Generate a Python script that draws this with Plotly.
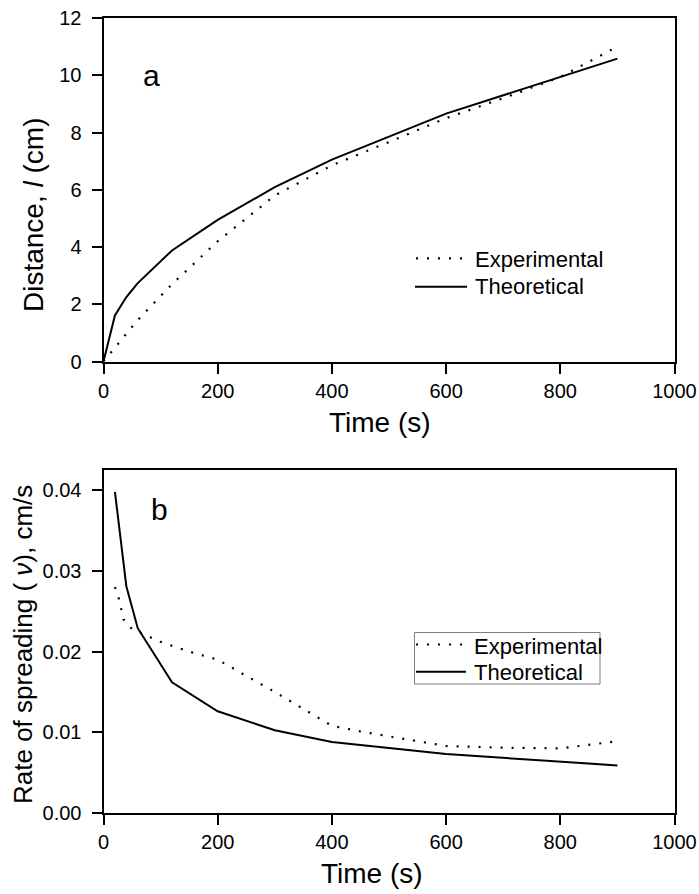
import plotly.graph_objects as go

# ---------------- data ----------------
# Panel a: distance vs time
time_a_theo = [0, 20, 40, 60, 120, 200, 300, 400, 600, 900]
dist_a_theo = [0, 1.61, 2.25, 2.74, 3.88, 4.95, 6.09, 7.05, 8.66, 10.58]

time_a_exp = [0, 60, 120, 200, 300, 400, 500, 600, 700, 800, 900]
dist_a_exp = [0, 1.45, 2.7, 4.2, 5.8, 6.85, 7.67, 8.5, 9.2, 9.94, 11.0]

# Panel b: rate of spreading vs time
time_b_theo = [20, 40, 60, 120, 200, 300, 400, 600, 900]
rate_b_theo = [0.0398, 0.0281, 0.0229, 0.0162, 0.0126, 0.01025, 0.0088, 0.0073, 0.0059]

time_b_exp = [20, 27, 35, 50, 100, 150, 200, 300, 400, 450, 500, 600, 700, 800, 900]
rate_b_exp = [0.0280, 0.0265, 0.0240, 0.0228, 0.0212, 0.0200, 0.0190, 0.0150, 0.0108,
              0.0101, 0.0095, 0.0083, 0.0081, 0.0080, 0.0089]

x_ticks = [0, 200, 400, 600, 800, 1000]
y_ticks_a = [0, 2, 4, 6, 8, 10, 12]
y_ticks_b = [0.00, 0.01, 0.02, 0.03, 0.04]

series_names = ["Experimental", "Theoretical"]

# ---------------- layout helpers ----------------
W, H = 699, 894
FONT = "Liberation Sans, Arial, sans-serif"


def px_x(p):
    return p / W


def px_y(p):
    return 1 - p / H


x_dom = [px_x(103.5), px_x(674.5)]
ya_dom = [px_y(361.5), px_y(18)]
yb_dom = [px_y(813), px_y(470)]

fig = go.Figure()

DOT = "2px,9px"
dot_style = dict(color="black", width=2.2, dash=DOT)
solid_style = dict(color="black", width=2)

fig.add_trace(go.Scatter(x=time_a_exp, y=dist_a_exp, mode="lines", name=series_names[0],
                         line=dot_style, xaxis="x", yaxis="y"))
fig.add_trace(go.Scatter(x=time_a_theo, y=dist_a_theo, mode="lines", name=series_names[1],
                         line=solid_style, xaxis="x", yaxis="y"))
fig.add_trace(go.Scatter(x=time_b_exp, y=rate_b_exp, mode="lines", name=series_names[0],
                         line=dot_style, xaxis="x2", yaxis="y2"))
fig.add_trace(go.Scatter(x=time_b_theo, y=rate_b_theo, mode="lines", name=series_names[1],
                         line=solid_style, xaxis="x2", yaxis="y2"))

axis_common = dict(
    showline=True, linecolor="black", linewidth=2, mirror=True,
    ticks="outside", ticklen=10, tickwidth=2, tickcolor="black",
    showgrid=False, zeroline=False, automargin=False,
    tickfont=dict(family=FONT, size=20, color="black"),
)

fig.update_layout(
    width=W, height=H,
    margin=dict(l=0, r=0, t=0, b=0, autoexpand=False),
    paper_bgcolor="white", plot_bgcolor="white",
    font=dict(family=FONT, color="black"),
    showlegend=False,
    xaxis=dict(domain=x_dom, anchor="y", range=[0, 1000], tickvals=x_ticks, **axis_common),
    yaxis=dict(domain=ya_dom, anchor="x", range=[0, 12], tickvals=y_ticks_a,
               ticklabelstandoff=6, **axis_common),
    xaxis2=dict(domain=x_dom, anchor="y2", range=[0, 1000], tickvals=x_ticks, **axis_common),
    yaxis2=dict(domain=yb_dom, anchor="x2", range=[0, 0.0425], tickvals=y_ticks_b,
                tickformat=".2f", ticklabelstandoff=6, **axis_common),
)


def text(s, x, y, size, angle=0, xanchor="center"):
    fig.add_annotation(text=s, x=px_x(x), y=px_y(y), xref="paper", yref="paper",
                       showarrow=False, textangle=angle, xanchor=xanchor, yanchor="middle",
                       font=dict(family=FONT, size=size, color="black"))


# axis titles
text("Time (s)", 380, 422, 28)
text("Time (s)", 372, 873, 28)
text("Distance, <i>l</i> (cm)", 34, 215, 28, angle=-90)
text("Rate of spreading ( <i>ν</i>), cm/s", 23, 645, 26, angle=-90)

# panel letters
text("a", 151.5, 76, 30)
text("b", 159, 510, 30)


# legends (sample lines + labels)
def sample(x0, x1, y, dash):
    fig.add_shape(type="line", xref="paper", yref="paper",
                  x0=px_x(x0), x1=px_x(x1), y0=px_y(y), y1=px_y(y),
                  line=dict(color="black", width=2.2 if dash else 2, dash=dash or "solid"))


fig.add_shape(type="rect", xref="paper", yref="paper",
              x0=px_x(414.5), x1=px_x(600), y0=px_y(632.5), y1=px_y(684),
              line=dict(color="#7f7f7f", width=1), fillcolor="white", layer="above")

legend_rows = [
    # (x0, x1, sample y, text x, text y, dash, label)
    (416, 462, 258.3, 473, 259.5, DOT, series_names[0]),
    (415, 467, 286.7, 473, 287, None, series_names[1]),
    (416, 462, 644.5, 472.3, 646, DOT, series_names[0]),
    (416, 466, 671.7, 472.3, 672, None, series_names[1]),
]
for x0, x1, ys, xt, yt, dash, label in legend_rows:
    sample(x0, x1, ys, dash)
    text(label, xt, yt, 22, xanchor="left")

fig.write_html("out.html", config={"displayModeBar": False},
               post_script="document.body.style.margin='0';")
